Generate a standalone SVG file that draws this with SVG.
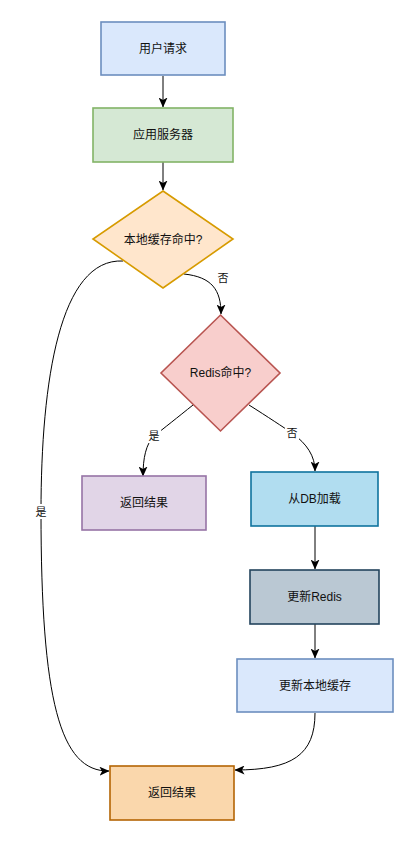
<svg xmlns="http://www.w3.org/2000/svg" width="416" height="843" viewBox="0 0 416 843">
<style>
  .n text, .lbl { font-family: "Liberation Sans", "Noto Sans CJK SC", sans-serif; fill: #111; text-anchor: middle; dominant-baseline: central; }
  .n text { font-size: 12px; }
  .n rect, .n polygon { stroke-width: 1.6; }
  .e { fill: none; stroke: #000; stroke-width: 1; marker-end: url(#arr); }
  .lbl { font-size: 11px; }
  .lblbg { fill: #fff; }
</style>
<defs>
  <marker id="arr" markerUnits="userSpaceOnUse" viewBox="0 0 10 9" markerWidth="10" markerHeight="9" refX="9.5" refY="4.5" orient="auto">
    <path d="M0,0 L10,4.5 L0,9 L2.5,4.5 Z" fill="#000"/>
  </marker>
</defs>
<rect width="416" height="843" fill="#fff"/>
<g id="connectors">
  <path class="e" d="M163,76 L163,107"/>
  <path class="e" d="M163,162 L163,190"/>
  <path class="e" d="M184,274 C212,277 221,290 221,314"/>
  <path class="e" d="M193,405 C178,417 163,429 154,436 C146,444 143,458 143,476"/>
  <path class="e" d="M249,405 C268,417 283,427 292,433 C307,444 315,456 315,471"/>
  <path class="e" d="M315,526 L315,569"/>
  <path class="e" d="M315,624 L315,658"/>
  <path class="e" d="M315,713 C315,755 292,770 235,770"/>
  <path class="e" d="M123,261 C60,258 41,380 41,512 C41,700 60,772 109,771"/>
  <rect class="lblbg" x="216" y="270" width="14" height="15"/>
  <text class="lbl" x="223" y="278">否</text>
  <rect class="lblbg" x="147" y="428" width="14" height="15"/>
  <text class="lbl" x="154" y="436">是</text>
  <rect class="lblbg" x="285" y="425" width="14" height="15"/>
  <text class="lbl" x="292" y="433">否</text>
  <rect class="lblbg" x="34" y="504" width="14" height="15"/>
  <text class="lbl" x="41" y="512">是</text>
</g>
<g id="n-user" class="n">
  <rect x="101" y="22" width="124" height="53" fill="#dae8fc" stroke="#6c8ebf"/>
  <text x="163" y="49">用户请求</text>
</g>
<g id="n-app" class="n">
  <rect x="93" y="108" width="140" height="54" fill="#d5e8d4" stroke="#82b366"/>
  <text x="163" y="135">应用服务器</text>
</g>
<g id="n-local" class="n">
  <polygon points="163,191 233,239 163,288 93,239" fill="#ffe6cc" stroke="#d79b00"/>
  <text x="163" y="240">本地缓存命中?</text>
</g>
<g id="n-redis" class="n">
  <polygon points="220.5,315 280,373 220.5,431 161,373" fill="#f8cecc" stroke="#b85450"/>
  <text x="220.5" y="373">Redis命中?</text>
</g>
<g id="n-ret1" class="n">
  <rect x="82" y="476" width="124" height="54" fill="#e1d5e7" stroke="#9673a6"/>
  <text x="144" y="503">返回结果</text>
</g>
<g id="n-db" class="n">
  <rect x="251" y="472" width="127" height="54" fill="#b1ddf0" stroke="#10739e"/>
  <text x="314.5" y="499">从DB加载</text>
</g>
<g id="n-upredis" class="n">
  <rect x="250" y="570" width="129" height="54" fill="#bac8d3" stroke="#23445d"/>
  <text x="314.5" y="597">更新Redis</text>
</g>
<g id="n-uplocal" class="n">
  <rect x="237" y="659" width="156" height="53" fill="#dae8fc" stroke="#6c8ebf"/>
  <text x="315" y="686">更新本地缓存</text>
</g>
<g id="n-ret2" class="n">
  <rect x="110" y="766" width="124" height="54" fill="#fad7ac" stroke="#b46504"/>
  <text x="172" y="793">返回结果</text>
</g>
</svg>
